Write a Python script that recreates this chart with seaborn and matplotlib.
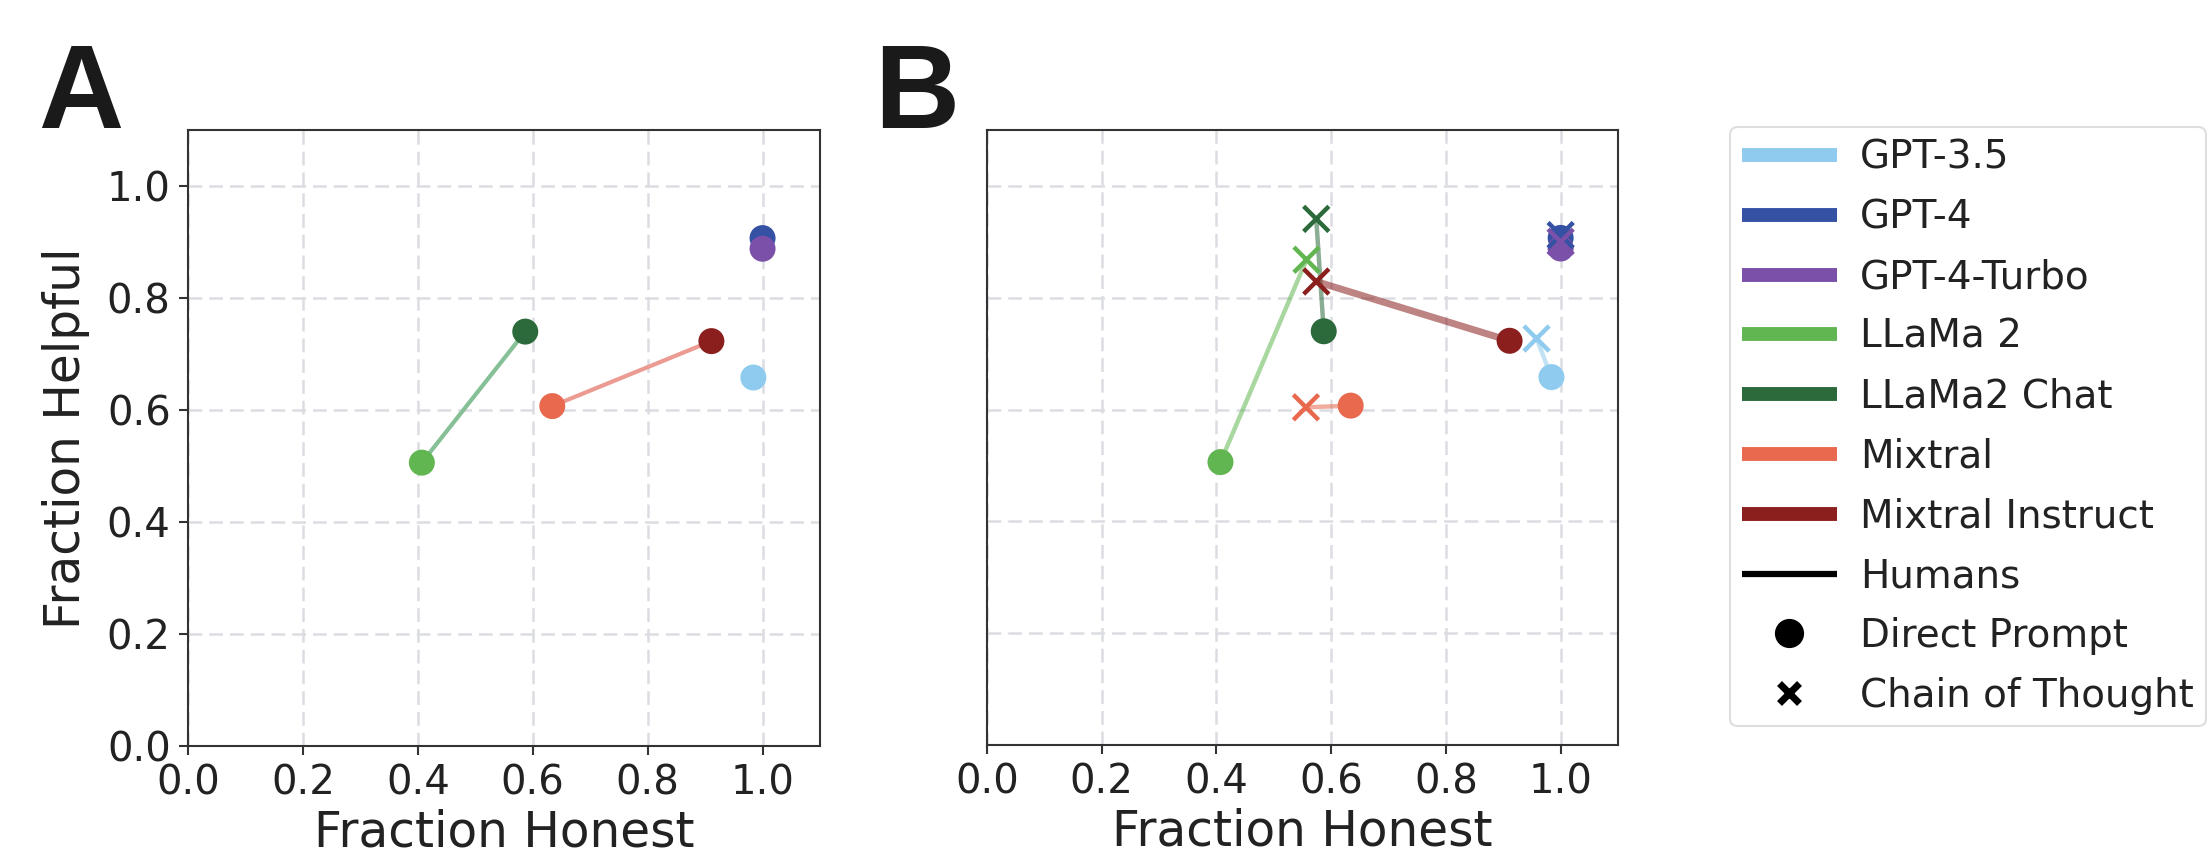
import pandas as pd
import seaborn as sns
import matplotlib.pyplot as plt
from matplotlib.lines import Line2D

models = ["GPT-3.5", "GPT-4", "GPT-4-Turbo", "LLaMa 2", "LLaMa2 Chat", "Mixtral", "Mixtral Instruct"]
colors = ["#8ecbee", "#3451a3", "#7a50a8", "#62b651", "#2c6a3c", "#e8694e", "#8a1f1e"]

# direct prompt scores
direct_honest = [0.984, 1.0, 1.0, 0.407, 0.587, 0.634, 0.911]
direct_helpful = [0.658, 0.907, 0.888, 0.506, 0.740, 0.607, 0.723]
# chain of thought scores
cot_honest = [0.958, 1.0, 1.0, 0.557, 0.574, 0.556, 0.574]
cot_helpful = [0.727, 0.912, 0.900, 0.868, 0.941, 0.604, 0.829]

# base -> instruct pairs linked in panel A
pairs = [("LLaMa 2", "LLaMa2 Chat"), ("Mixtral", "Mixtral Instruct")]
pair_colors = ["#86c096", "#eb9b91"]

ticks = [0.0, 0.2, 0.4, 0.6, 0.8, 1.0]

direct = pd.DataFrame({"model": models, "honest": direct_honest, "helpful": direct_helpful})
cot = pd.DataFrame({"model": models, "honest": cot_honest, "helpful": cot_helpful})
pal = dict(zip(models, colors))

sns.set_style("white")
fig = plt.figure(figsize=(22.07, 8.61), dpi=100)
axA = fig.add_axes([188 / 2207, 115 / 861, 632 / 2207, 616 / 861])
axB = fig.add_axes([987 / 2207, 116 / 861, 631 / 2207, 615 / 861])


def style_axes(ax, show_y):
    ax.set_xlim(0, 1.1)
    ax.set_ylim(0, 1.1)
    ax.set_xticks(ticks)
    ax.set_yticks(ticks)
    ax.grid(True, color="#dcdde3", lw=1.8, dashes=(5.5, 2.8))
    ax.set_axisbelow(True)
    for s in ax.spines.values():
        s.set_color("#333333")
        s.set_linewidth(1.5)
    ax.tick_params(axis="both", labelsize=29, length=6.5, width=1.5, color="#333333",
                   labelcolor="#222222", pad=6)
    ax.tick_params(axis="x", bottom=True)
    if show_y:
        ax.tick_params(axis="y", left=True)
        ax.set_ylabel("Fraction Helpful", fontsize=35, color="#222222", labelpad=12)
    else:
        ax.tick_params(axis="y", left=False, labelleft=False)
        ax.set_ylabel("")
    ax.set_xlabel("Fraction Honest", fontsize=35, color="#222222", labelpad=4)


# panel A: direct prompt, base vs instruct
for (a, b), c in zip(pairs, pair_colors):
    sub = direct.set_index("model").loc[[a, b]]
    axA.plot(sub["honest"], sub["helpful"], color=c, lw=3, zorder=2)
sns.scatterplot(data=direct, x="honest", y="helpful", hue="model", hue_order=models,
                palette=pal, s=350, linewidth=0, ax=axA, legend=False, zorder=3)
style_axes(axA, True)

# panel B: direct prompt vs chain of thought
for i, m in enumerate(models):
    lw = 5 if m == "Mixtral Instruct" else 3.2
    axB.plot([direct_honest[i], cot_honest[i]], [direct_helpful[i], cot_helpful[i]],
             color=colors[i], alpha=0.55, lw=lw, zorder=2, solid_capstyle="butt")
sns.scatterplot(data=direct, x="honest", y="helpful", hue="model", hue_order=models,
                palette=pal, s=350, linewidth=0, ax=axB, legend=False, zorder=3)
sns.scatterplot(data=cot, x="honest", y="helpful", hue="model", hue_order=models,
                palette=pal, marker="x", s=330, linewidth=3.2, ax=axB, legend=False, zorder=4)
style_axes(axB, False)

fig.text(38 / 2207, 1 - 128 / 861, "A", fontsize=85, fontweight="bold",
         family="Liberation Sans", color="#1a1a1a", va="baseline", ha="left")
fig.text(874 / 2207, 1 - 128 / 861, "B", fontsize=85, fontweight="bold",
         family="Liberation Sans", color="#1a1a1a", va="baseline", ha="left")

handles = [Line2D([], [], color=c, lw=10, solid_capstyle="butt") for c in colors]
handles.append(Line2D([], [], color="black", lw=4.5, solid_capstyle="butt"))
handles.append(Line2D([], [], color="black", lw=0, marker="o", markersize=20))
handles.append(Line2D([], [], color="black", lw=0, marker="x", markersize=15, markeredgewidth=5))
labels = models + ["Humans", "Direct Prompt", "Chain of Thought"]
leg = fig.legend(handles, labels, loc="upper left", bbox_to_anchor=(1730 / 2207, 1 - 127 / 861),
                 borderaxespad=0, fontsize=28, handlelength=2.45, handletextpad=0.6,
                 labelspacing=0.56, borderpad=0.3, frameon=True, fancybox=True)
leg.get_frame().set_edgecolor("#d6d6d6")
leg.get_frame().set_linewidth(1.5)
for t in leg.get_texts():
    t.set_color("#222222")

fig.savefig("out.png", dpi=100)
